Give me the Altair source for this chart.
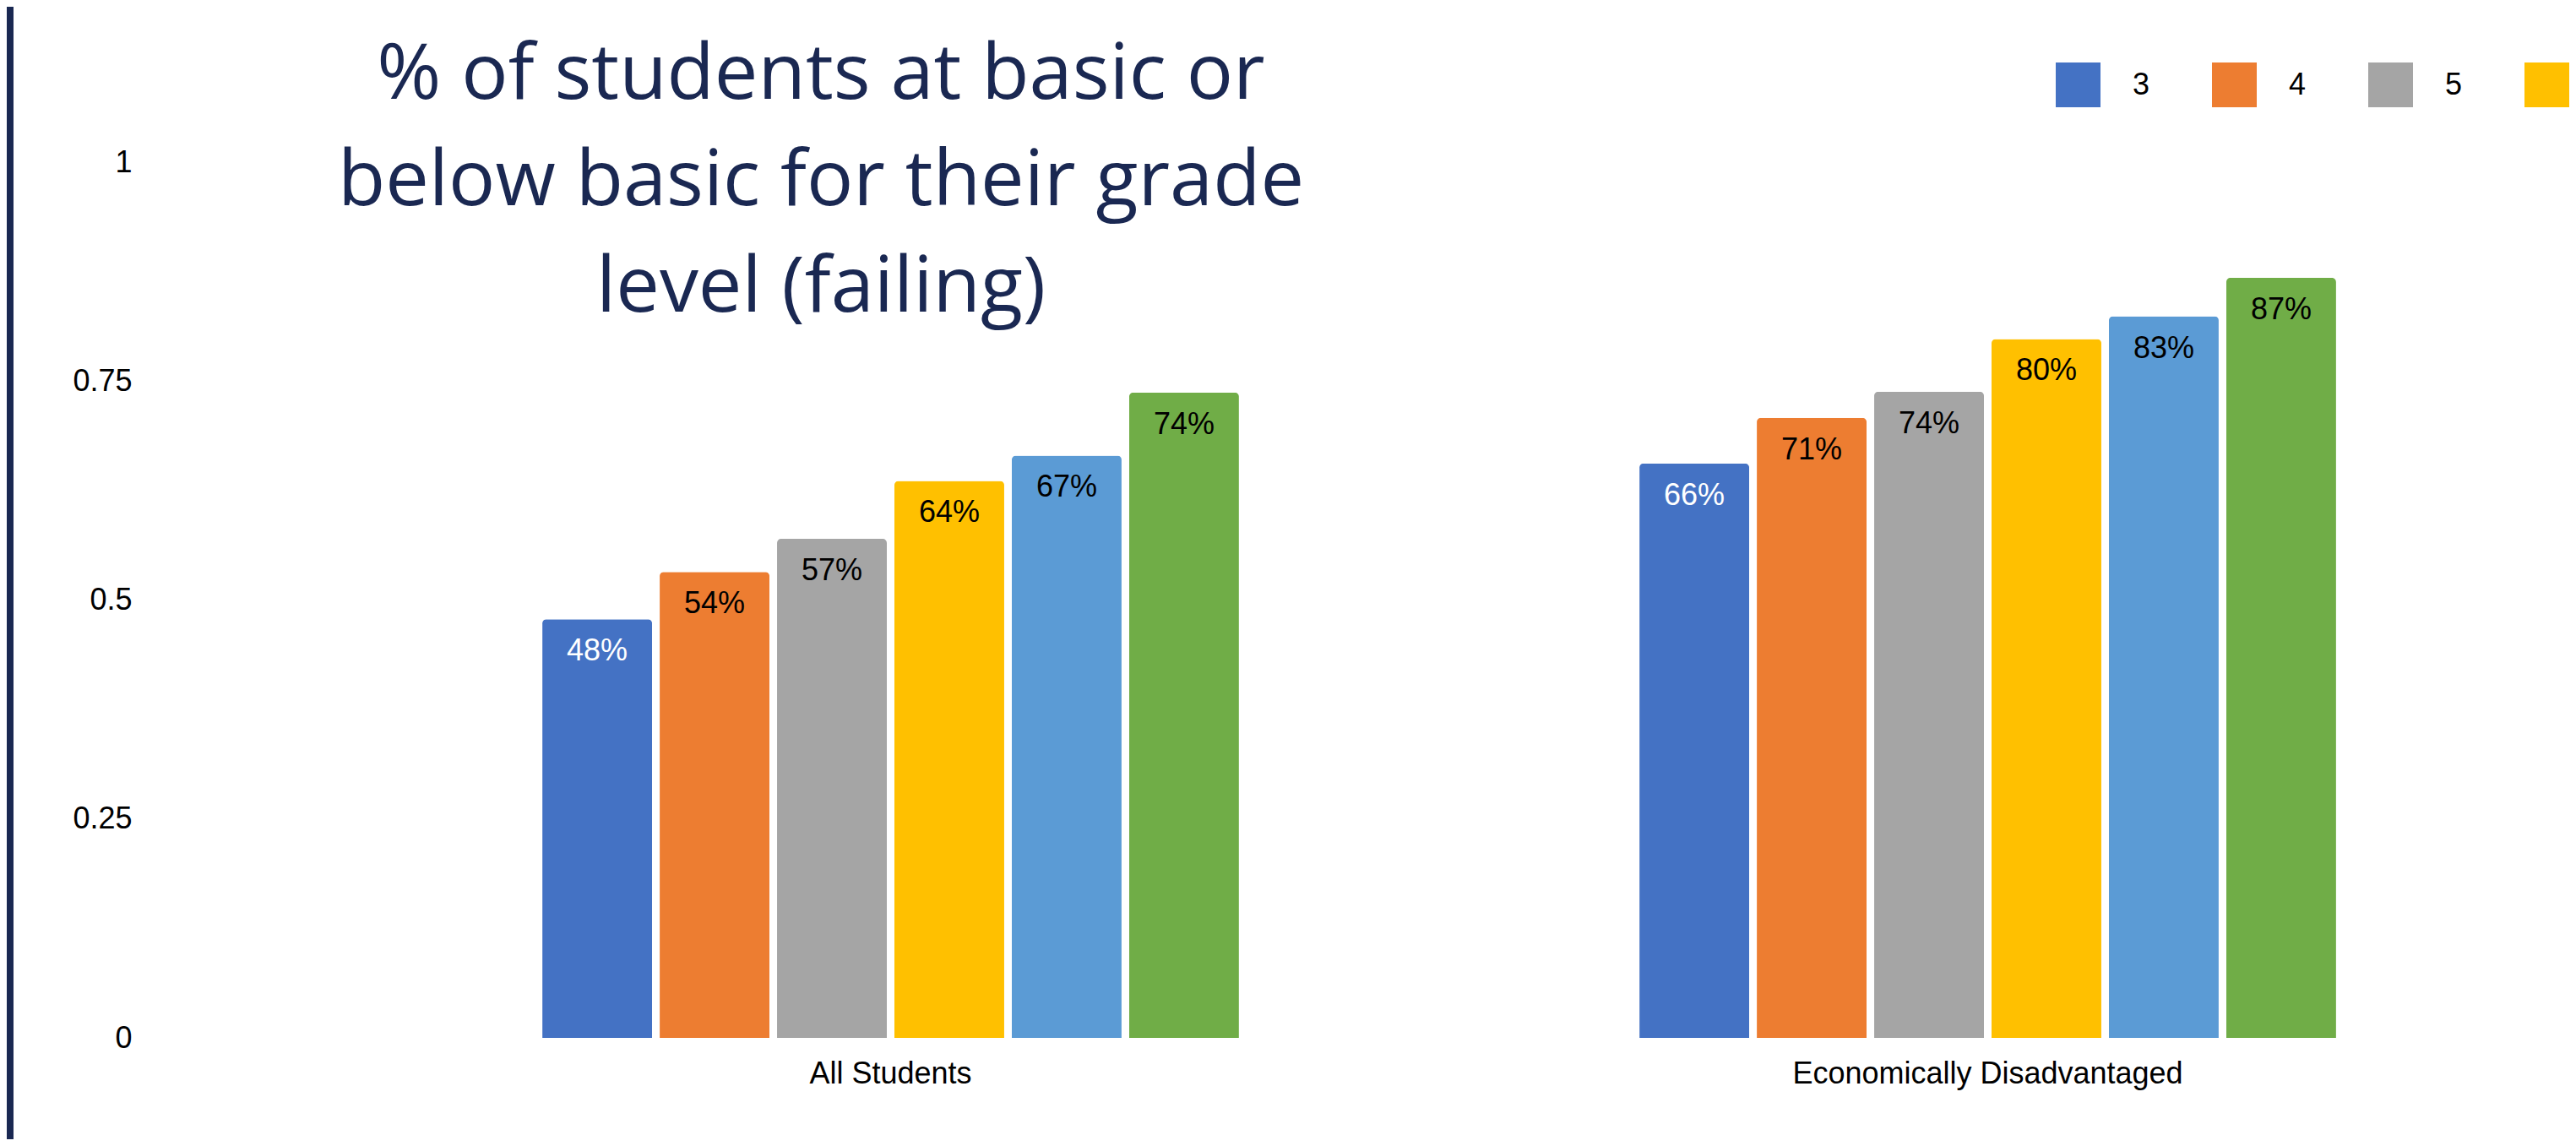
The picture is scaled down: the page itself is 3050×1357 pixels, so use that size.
import altair as alt
import pandas as pd

groups = ["All Students", "Economically Disadvantaged"]
grades = ["3", "4", "5", "6", "7", "8"]
all_students = [0.478, 0.532, 0.570, 0.636, 0.665, 0.737]
econ_disadv = [0.656, 0.708, 0.738, 0.798, 0.824, 0.868]
labels_all = ["48%", "54%", "57%", "64%", "67%", "74%"]
labels_econ = ["66%", "71%", "74%", "80%", "83%", "87%"]
colors = ["#4472C4", "#ED7D31", "#A5A5A5", "#FFC000", "#5B9BD5", "#70AD47"]
title_lines = ["% of students at basic or", "below basic for their grade", "level (failing)"]
navy = "#1a2852"

rows = []
for g, vals, labs in [(groups[0], all_students, labels_all), (groups[1], econ_disadv, labels_econ)]:
    for gr, v, l in zip(grades, vals, labs):
        rows.append({"group": g, "grade": gr, "value": v, "label": l})
df = pd.DataFrame(rows)

axis_font = "Liberation Sans"

base = alt.Chart(df).encode(
    x=alt.X("group:N", sort=groups,
            scale=alt.Scale(paddingInner=0.365, paddingOuter=0.1825),
            axis=alt.Axis(title=None, labelAngle=0, domain=False, ticks=False,
                          labelPadding=25, labelFontSize=36, labelFont=axis_font,
                          labelColor="black", labelBaseline="top", labelLimit=0)),
    xOffset=alt.XOffset("grade:N", sort=grades,
                        scale=alt.Scale(paddingInner=0.0647, paddingOuter=0)),
    y=alt.Y("value:Q", scale=alt.Scale(domain=[0, 1], nice=False),
            axis=alt.Axis(title=None, values=[0, 0.25, 0.5, 0.75, 1],
                          labelExpr="'' + datum.value",
                          domain=False, ticks=False, grid=False, labelPadding=0,
                          offset=249, labelFontSize=36, labelFont=axis_font,
                          labelColor="black")),
)

bars = base.mark_bar(cornerRadiusTopLeft=5, cornerRadiusTopRight=5).encode(
    color=alt.Color("grade:N", sort=grades,
                    scale=alt.Scale(domain=grades, range=colors),
                    legend=alt.Legend(title=None, orient="none", legendX=2029, legendY=-118,
                                      direction="horizontal", columns=6,
                                      symbolType="square", symbolSize=2809,
                                      symbolStrokeWidth=0, symbolOpacity=1,
                                      labelFontSize=36, labelFont=axis_font,
                                      labelColor="black", labelOffset=38,
                                      columnPadding=73, padding=0))
)

text = base.mark_text(dy=49, baseline="alphabetic", fontSize=36, font=axis_font).encode(
    text="label:N",
    color=alt.condition("datum.grade == '3'", alt.value("white"), alt.value("black")),
)

title = alt.Chart(pd.DataFrame({"t": [0]})).mark_text(
    text=title_lines, font="Open Sans", fontSize=92, color=navy,
    align="center", baseline="alphabetic", lineHeight=126,
).encode(x=alt.value(567), y=alt.value(-75))

strip = alt.Chart(pd.DataFrame({"t": [0]})).mark_rect(color=navy).encode(
    x=alt.value(-397), x2=alt.value(-389), y=alt.value(-184), y2=alt.value(1157)
)

chart = alt.layer(strip, bars, text, title).properties(
    width=2598, height=1037,
    autosize=alt.AutoSizeParams(type="none"),
    padding={"left": 397, "top": 184, "right": 39, "bottom": 120},
    background="white",
).configure_view(strokeWidth=0)

chart.save("out.html", embed_options={"renderer": "svg", "actions": False})
